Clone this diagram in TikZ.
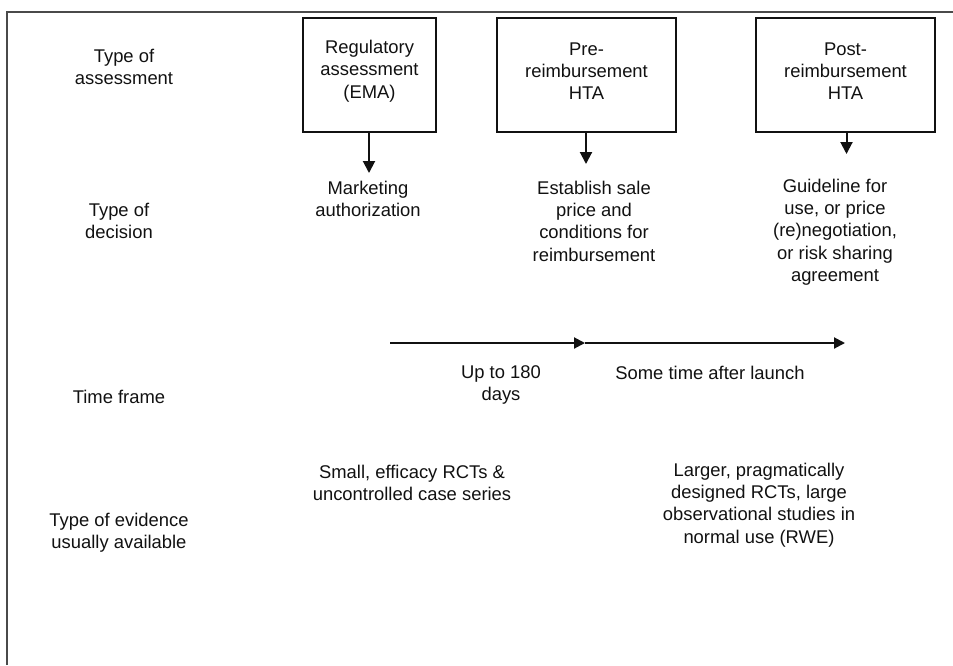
\documentclass[tikz,border=0pt]{standalone}
\usepackage{fontspec}
\setmainfont{Liberation Sans}
\usetikzlibrary{arrows.meta}
\definecolor{ink}{HTML}{111111}
\definecolor{framec}{HTML}{4A4A4A}
\tikzset{
  txt/.style={align=center, inner sep=0pt, text=ink, font=\fontsize{18.4}{22.3}\selectfont},
  boxnode/.style={draw=ink, line width=1.2pt, minimum height=114pt, inner sep=0pt},
  downarrow/.style={draw=ink, line width=2pt, -{Triangle[width=12pt,length=12pt]}},
  timearrow/.style={draw=ink, line width=2pt, -{Triangle[width=11pt,length=11pt]}},
  framel/.style={draw=framec, line width=2.2pt}
}
\begin{document}
\begin{tikzpicture}[x=1pt,y=-1pt]
\useasboundingbox (0,0) rectangle (953,665);
% frame
\coordinate (fa) at (7,665);
\coordinate (fb) at (7,12);
\coordinate (fc) at (953,12);
\draw[framel] (fa) -- (fb) -- (fc);
% row labels
\node[txt] (lab1) at (124,67) {Type of\\assessment};
\node[txt] (lab2) at (119,221) {Type of\\decision};
\node[txt] (lab3) at (119,397) {Time frame};
\node[txt] (lab4) at (119,533) {Type of evidence\\usually available};
% boxes
\node[boxnode, minimum width=133pt] (b1) at (369.5,75) {};
\node[boxnode, minimum width=179pt] (b2) at (586.5,75) {};
\node[boxnode, minimum width=179pt] (b3) at (845.5,75) {};
\node[txt] (t1) at (369.5,71) {Regulatory\\assessment\\(EMA)};
\node[txt] (t2) at (586.5,71) {Pre-\\reimbursement\\HTA};
\node[txt] (t3) at (845.5,71) {Post-\\reimbursement\\HTA};
% arrows to decisions
\coordinate (a1) at (369,173);
\coordinate (a2) at (586,164);
\coordinate (a3) at (846.5,154);
\draw[downarrow] (b1.south -| a1) -- (a1);
\draw[downarrow] (b2.south -| a2) -- (a2);
\draw[downarrow] (b3.south -| a3) -- (a3);
% decisions
\node[txt] (d1) at (368,199) {Marketing\\authorization};
\node[txt] (d2) at (594,221) {Establish sale\\price and\\conditions for\\reimbursement};
\node[txt] (d3) at (835,232) {Guideline for\\use, or price\\(re)negotiation,\\or risk sharing\\agreement};
% time line
\coordinate (tl0) at (390,343);
\coordinate (tl1) at (585,343);
\coordinate (tl2) at (845,343);
\draw[timearrow] (tl0) -- (tl1);
\draw[timearrow] (tl1) -- (tl2);
\node[txt] (tf1) at (501,385) {Up to 180\\days};
\node[txt] (tf2) at (710,373) {Some time after launch};
% evidence
\node[txt] (e1) at (412,483) {Small, efficacy RCTs \&\\uncontrolled case series};
\node[txt] (e2) at (759,505) {Larger, pragmatically\\designed RCTs, large\\observational studies in\\normal use (RWE)};
\end{tikzpicture}
\end{document}
